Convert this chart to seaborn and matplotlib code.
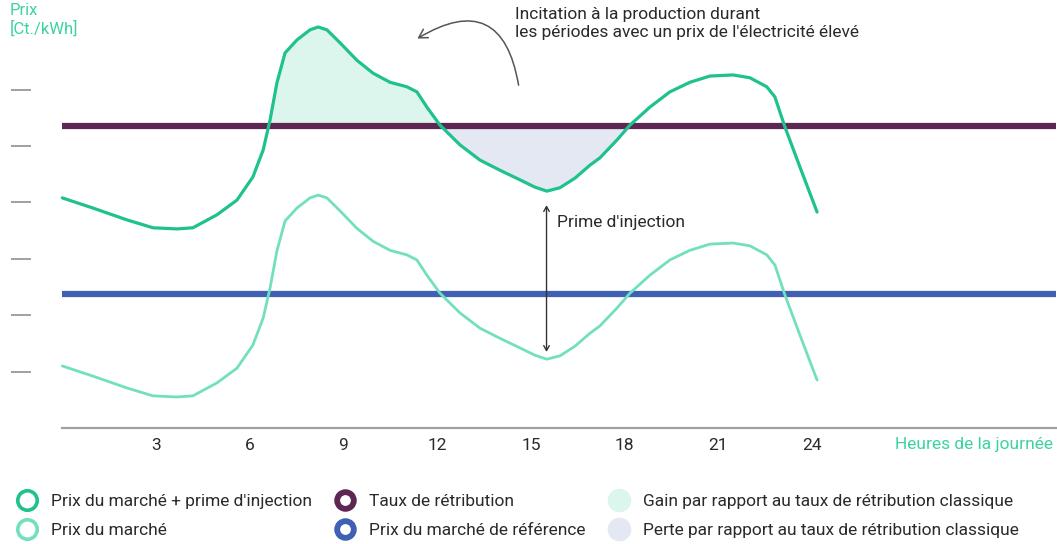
import numpy as np
import pandas as pd
import seaborn as sns
import matplotlib.pyplot as plt
from matplotlib.lines import Line2D

# Hours of the day and price curves (arbitrary units)
hours = [0, 0.98, 2.07, 2.90, 3.67, 4.18, 4.95, 5.59, 6.10, 6.43, 6.65, 6.87, 7.13, 7.51,
         7.93, 8.19, 8.47, 8.89, 9.43, 9.95, 10.49, 11.03, 11.35, 11.67, 12.09, 12.73,
         13.37, 14.01, 14.65, 15.13, 15.51, 15.93, 16.41, 16.89, 17.21, 17.76, 18.17,
         18.81, 19.45, 20.09, 20.73, 21.47, 22.01, 22.55, 22.81, 23.13, 23.61, 24.16]
price_with_premium = [4.08, 3.90, 3.69, 3.55, 3.53, 3.55, 3.78, 4.04, 4.45, 4.93, 5.46,
                      6.12, 6.65, 6.88, 7.06, 7.11, 7.06, 6.83, 6.52, 6.29, 6.13, 6.05,
                      5.96, 5.69, 5.37, 5.02, 4.75, 4.57, 4.40, 4.27, 4.20, 4.26, 4.43,
                      4.66, 4.79, 5.11, 5.37, 5.69, 5.96, 6.13, 6.24, 6.26, 6.21, 6.05,
                      5.87, 5.34, 4.63, 3.83]
market_price = [1.10, 0.92, 0.71, 0.57, 0.55, 0.57, 0.80, 1.06, 1.47, 1.95, 2.48,
                3.14, 3.67, 3.90, 4.08, 4.13, 4.08, 3.85, 3.54, 3.31, 3.15, 3.07,
                2.98, 2.71, 2.39, 2.04, 1.77, 1.59, 1.42, 1.29, 1.22, 1.28, 1.45,
                1.68, 1.81, 2.13, 2.39, 2.71, 2.98, 3.15, 3.26, 3.28, 3.23, 3.07,
                2.89, 2.36, 1.65, 0.85]
retribution_rate = 5.35
reference_price = 2.38
x_end = 31.8

xticks = [3, 6, 9, 12, 15, 18, 21, 24]
yticks = [1, 2, 3, 4, 5, 6]

labels = ["Prix du marché + prime d'injection", "Prix du marché",
          "Taux de rétribution", "Prix du marché de référence",
          "Gain par rapport au taux de rétribution classique",
          "Perte par rapport au taux de rétribution classique"]

C_UPPER = "#1fc28c"
C_LOWER = "#72e0bf"
C_PURPLE = "#5e2753"
C_BLUE = "#3f60b3"
C_GAIN = "#dcf6ee"
C_LOSS = "#e3e8f3"
C_GREY = "#a0a0a0"
C_TEXT = "#2a2a2a"

sns.set_style("white")
plt.rcParams['font.family'] = ['Roboto', 'DejaVu Sans']

df = pd.DataFrame({'hour': hours, 'upper': price_with_premium, 'lower': market_price})
h = np.array(hours)
up = np.array(price_with_premium)

fig = plt.figure(figsize=(10.57, 5.44), dpi=100)
ax = fig.add_axes([31 / 1057, 116 / 544, 1026 / 1057, 428 / 544])

# gain / loss areas
ax.fill_between(h, up, retribution_rate, where=(up >= retribution_rate) & (h < 15),
                interpolate=True, color=C_GAIN, lw=0, zorder=1)
ax.fill_between(h, up, retribution_rate, where=(up <= retribution_rate) & (h > 10) & (h < 20),
                interpolate=True, color=C_LOSS, lw=0, zorder=1)

ax.hlines(retribution_rate, 0, x_end, color=C_PURPLE, lw=4.5, zorder=2)
ax.hlines(reference_price, 0, x_end, color=C_BLUE, lw=4.5, zorder=2)

sns.lineplot(data=df, x='hour', y='upper', ax=ax, color=C_UPPER, lw=2.3, zorder=3)
sns.lineplot(data=df, x='hour', y='lower', ax=ax, color=C_LOWER, lw=2.0, zorder=3)

ax.set_xlim(-(62.3 - 31) / 31.24, (1057 - 62.3) / 31.24)
ax.set_ylim(0, 428 / 56.4)
ax.set_xlabel('')
ax.set_ylabel('')
ax.set_xticks(xticks)
ax.set_xticklabels([str(t) for t in xticks], fontsize=12.5, color=C_TEXT)
ax.set_yticks(yticks)
ax.set_yticklabels([])
ax.tick_params(axis='x', length=0, pad=7)
ax.tick_params(axis='y', left=True, length=14.4, width=1.4, color=C_GREY, direction='out')
for side in ['top', 'right', 'left']:
    ax.spines[side].set_visible(False)
ax.spines['bottom'].set_bounds(0, x_end)
ax.spines['bottom'].set_color(C_GREY)
ax.spines['bottom'].set_linewidth(1.6)

# annotations
ax.annotate('', xy=(11.29, 6.88), xytext=(14.62, 6.03),
            arrowprops=dict(arrowstyle='->,head_length=0.6,head_width=0.35', color='#555555',
                            lw=1.1, connectionstyle='arc3,rad=0.75'))
ax.text(14.5, 7.47, "Incitation à la production durant\nles périodes avec un prix de l'électricité élevé",
        fontsize=12.5, color=C_TEXT, va='top', ha='left', linespacing=1.25)
ax.annotate('', xy=(15.5, 4.0), xytext=(15.5, 1.3),
            arrowprops=dict(arrowstyle='<->,head_length=0.35,head_width=0.2', color='#333333', lw=1.0))
ax.text(15.85, 3.65, "Prime d'injection", fontsize=12.5, color=C_TEXT, va='center', ha='left')

fig.text(10 / 1057, 1 - 3 / 544, "Prix\n[Ct./kWh]", color="#3dd3a0", fontsize=12,
         va='top', ha='left', linespacing=1.2)
fig.text(1053 / 1057, 1 - 444 / 544, "Heures de la journée", color="#3dd3a0", fontsize=12.5,
         va='center', ha='right')

handles = [
    Line2D([], [], ls='', marker='o', ms=14, mfc='white', mec=C_UPPER, mew=2.6),
    Line2D([], [], ls='', marker='o', ms=14, mfc='white', mec=C_LOWER, mew=2.6),
    Line2D([], [], ls='', marker='o', ms=12, mfc='white', mec=C_PURPLE, mew=4.2),
    Line2D([], [], ls='', marker='o', ms=12, mfc='white', mec=C_BLUE, mew=4.2),
    Line2D([], [], ls='', marker='o', ms=16, mfc=C_GAIN, mec=C_GAIN),
    Line2D([], [], ls='', marker='o', ms=16, mfc=C_LOSS, mec=C_LOSS),
]
fig.legend(handles, labels, ncols=3, loc='lower left', bbox_to_anchor=(0.001, -0.018),
           frameon=False, fontsize=12.5, handlelength=1.2, handletextpad=0.75,
           columnspacing=1.35, labelspacing=0.78, labelcolor=C_TEXT)

fig.savefig('out.png', dpi=100)
